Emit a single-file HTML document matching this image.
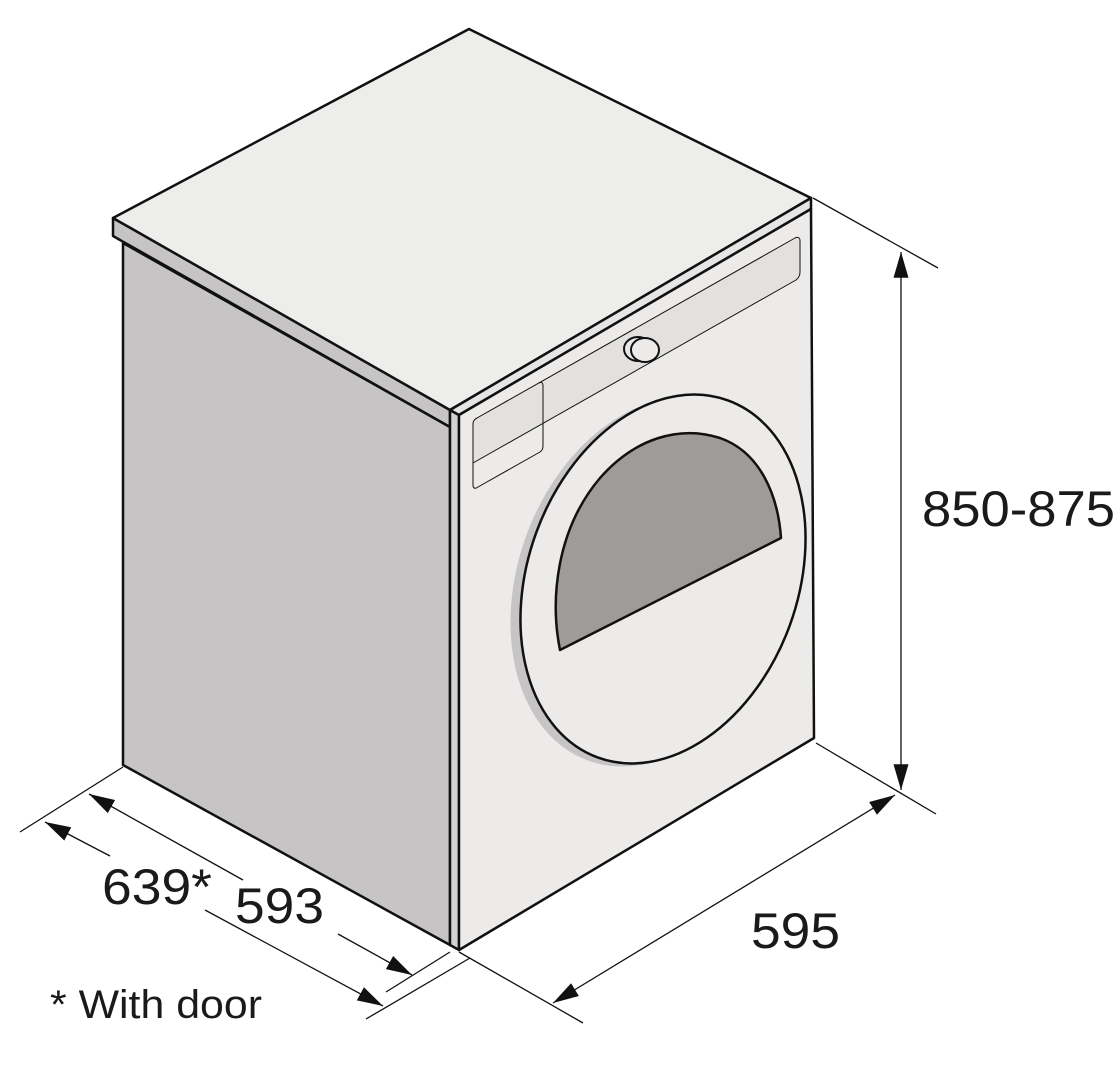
<!DOCTYPE html>
<html><head><meta charset="utf-8"><style>
html,body{margin:0;padding:0;background:#fff;}
svg{display:block;}
text{font-family:"Liberation Sans",sans-serif;fill:#1a1a1a;}
</style></head><body>
<svg width="1120" height="1080" viewBox="0 0 1120 1080" xmlns="http://www.w3.org/2000/svg">
<defs>
<marker id="b" viewBox="0 0 24 14" refX="24" refY="7" markerWidth="26" markerHeight="15" markerUnits="userSpaceOnUse" orient="auto-start-reverse">
<path d="M0,0 L24,7 L0,14 Z" fill="#111"/></marker>
</defs>
<g stroke="#111" stroke-linejoin="round">
<polygon points="123,243 450,427 450,945 123,765" fill="#c6c4c5" stroke-width="2.5"/>
<polygon points="113,218 450,410 450,427 113,236" fill="#c6c4c5" stroke-width="2.5"/>
<polygon points="113,218 469,29 811,198 450,410" fill="#ededeb" stroke-width="2.5"/>
<polygon points="450,410 459,415 459,950 450,945" fill="#d4d2d2" stroke-width="2.5"/>
<polygon points="450,410 811,198 811,209 459,415" fill="#e6e5e3" stroke-width="2.5"/>
<polygon points="459,415 811,209 814,738 459,950" fill="#ecebe9" stroke-width="2.5"/>
<path d="M473,463 L473,424 Q473,420 477,418 L795,238 Q800,236 800,241 L800,272 Q800,277 796,280 Z" fill="#e2e1df" stroke-width="1"/>
<path d="M473,463 L473,486 Q474,490 478,487 L540,452 Q543,450 543,446 L543,386 Q543,381 539,383" fill="none" stroke-width="1"/>
<ellipse cx="638" cy="349" rx="14" ry="12" fill="#e8e7e5" stroke-width="2"/>
<ellipse cx="645" cy="350" rx="14" ry="12" fill="#ecebe9" stroke-width="2"/>
<ellipse cx="653" cy="582" rx="135" ry="190" transform="rotate(20 653 582)" fill="#c6c4c5" stroke="none"/>
<ellipse cx="663" cy="579" rx="135" ry="190" transform="rotate(20 663 579)" fill="#ecebe9" stroke-width="2.5"/>
<path d="M560,650 C550,600 556,530 600,478 C635,438 680,425 720,438 C760,452 778,495 781,538 Z" fill="#9e9b99" stroke-width="2.5"/>
</g>
<g stroke="#111" stroke-width="1.3" fill="none">
<line x1="813" y1="198" x2="938" y2="268"/>
<line x1="816" y1="743" x2="936" y2="814"/>
<line x1="901" y1="252" x2="901" y2="790" marker-start="url(#b)" marker-end="url(#b)"/>
<line x1="459" y1="952" x2="583" y2="1023"/>
<line x1="553" y1="1003" x2="895" y2="795" marker-start="url(#b)" marker-end="url(#b)"/>
<line x1="123" y1="767" x2="20" y2="832"/>
<line x1="450" y1="952" x2="386" y2="992"/>
<line x1="470" y1="958" x2="366" y2="1019"/>
<line x1="243" y1="880" x2="89" y2="794" marker-end="url(#b)"/>
<line x1="338" y1="934" x2="412" y2="975" marker-end="url(#b)"/>
<line x1="110" y1="856" x2="45" y2="822" marker-end="url(#b)"/>
<line x1="205" y1="910" x2="383" y2="1006" marker-end="url(#b)"/>
</g>
<text x="922" y="526" font-size="50" textLength="193" lengthAdjust="spacingAndGlyphs">850-875</text>
<text x="751" y="948" font-size="50" textLength="89" lengthAdjust="spacingAndGlyphs">595</text>
<text x="102" y="904" font-size="50" textLength="110" lengthAdjust="spacingAndGlyphs">639*</text>
<text x="235" y="923" font-size="50" textLength="89" lengthAdjust="spacingAndGlyphs">593</text>
<text x="50" y="1018" font-size="40" textLength="212" lengthAdjust="spacingAndGlyphs">* With door</text>
</svg>
</body></html>
